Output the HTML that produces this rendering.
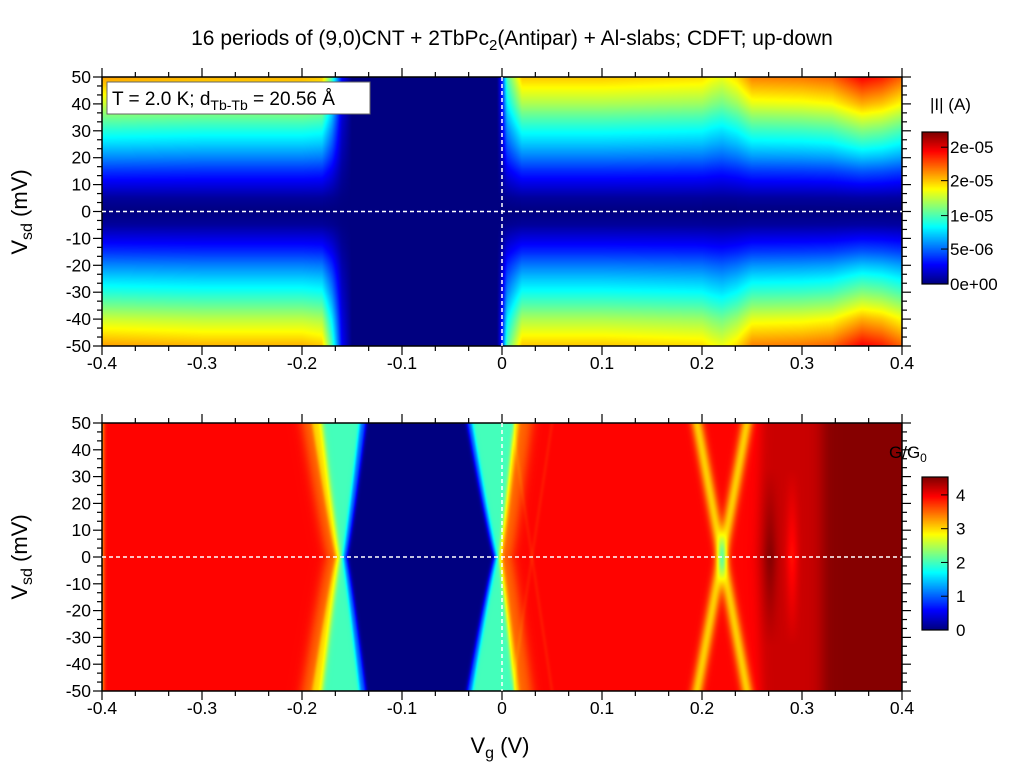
<!DOCTYPE html>
<html><head><meta charset="utf-8"><style>
body{margin:0;background:#fff;width:1024px;height:768px;overflow:hidden;font-family:"Liberation Sans",sans-serif}
canvas{position:absolute}
svg{position:absolute;left:0;top:0}
</style></head><body>
<canvas id="c1" width="800" height="269" style="left:102px;top:77px"></canvas>
<canvas id="c2" width="800" height="268" style="left:102px;top:423px"></canvas>
<canvas id="cb1" width="26" height="152" style="left:922px;top:132px"></canvas>
<canvas id="cb2" width="26" height="153" style="left:922px;top:477px"></canvas>
<svg id="ov" width="1024" height="768" font-family="Liberation Sans, sans-serif">
<text x="512" y="45" font-size="21" text-anchor="middle">16 periods of (9,0)CNT + 2TbPc<tspan font-size="15" dy="5">2</tspan><tspan dy="-5">(Antipar) + Al-slabs; CDFT; up-down</tspan></text>
<text transform="translate(27,212) rotate(-90)" font-size="22" text-anchor="middle">V<tspan font-size="16" dy="5">sd</tspan><tspan dy="-5"> (mV)</tspan></text>
<text transform="translate(27,557) rotate(-90)" font-size="22" text-anchor="middle">V<tspan font-size="16" dy="5">sd</tspan><tspan dy="-5"> (mV)</tspan></text>
<text x="500" y="753" font-size="22" text-anchor="middle">V<tspan font-size="16" dy="5">g</tspan><tspan dy="-5">  (V)</tspan></text>
<g>
<rect x="107" y="82" width="263" height="32" fill="#fff" stroke="#666" stroke-width="1"/>
<text x="112" y="105" font-size="19">T = 2.0 K; d<tspan font-size="14" dy="5">Tb-Tb</tspan><tspan dy="-5"> = 20.56 Å</tspan></text>
</g>
<text x="930" y="110" font-size="17">|I| (A)</text>
<text x="889" y="458" font-size="17">G/G<tspan font-size="12" dy="4">0</tspan></text>
<g id="axes"></g>
</svg>
<script>
// ---- data: top panel |I| (normalized to colorbar) ----
const topVg  = [-0.4,-0.3,-0.2,-0.18,-0.17,-0.16,-0.15,-0.02,-0.005,0,0.005,0.02,0.1,0.2,0.21,0.22,0.235,0.25,0.3,0.33,0.36,0.38,0.4];
const topAmp = [0.72,0.7,0.7,0.68,0.45,0.12,0,0,0,0.15,0.45,0.68,0.68,0.66,0.63,0.61,0.66,0.75,0.76,0.78,0.88,0.85,0.78];
const profV  = [0,5,10,15,20,25,30,35,40,45,50];
const prof   = [0,0.04,0.14,0.24,0.36,0.47,0.57,0.68,0.8,0.9,1];
// ---- data: bottom panel G/G0 boundaries [vg at Vsd=0, vg at |Vsd|=50, value after, width] ----
const gStart = 3.3;
const gEdgeMid = [-0.398,-0.175,-0.166,-0.162,-0.159,-0.155,-0.008,-0.005,-0.003,0.0,0.01,0.255,0.32];
const gEdgeTop = [-0.398,-0.200,-0.190,-0.180,-0.142,-0.136,-0.035,-0.030,0.012,0.017,0.03,0.26,0.32];
const gEdgeVal = [3.95,3.5,3.0,2.0,1.0,0.0,1.0,2.0,3.0,3.5,3.95,4.2,4.5];
const gEdgeW   = [0.002,0.006,0.002,0.003,0.002,0.002,0.002,0.002,0.002,0.002,0.006,0.006,0.008];
// line features [vg mid, vg top, amplitude, width]
const lineMid = [0.22,0.22,0.03,0.03,0.268,0.29];
const lineTop = [0.195,0.245,0.01,0.05,0.268,0.29];
const lineAmp = [-0.9,-0.9,-0.08,-0.08,0.3,-0.3];
const lineW   = [0.006,0.006,0.002,0.002,0.007,0.006];
const cb1Labels=["2e-05","2e-05","1e-05","5e-06","0e+00"], cb1Pos=[0.9,0.68,0.45,0.23,0];
const cb2Labels=["0","1","2","3","4"], cb2Vals=[0,1,2,3,4], gMax=4.53;
const xTicks=[-0.4,-0.3,-0.2,-0.1,0,0.1,0.2,0.3,0.4], yTicks=[-50,-40,-30,-20,-10,0,10,20,30,40,50];

function interp(xs,ys,x){if(x<=xs[0])return ys[0];for(let i=1;i<xs.length;i++){if(x<=xs[i]){const t=(x-xs[i-1])/(xs[i]-xs[i-1]);return ys[i-1]+t*(ys[i]-ys[i-1]);}}return ys[ys.length-1];}
function cl(v){return Math.max(0,Math.min(1,v));}
function jet(x){x=cl(x);return [cl(1.5-Math.abs(4*x-3)),cl(1.5-Math.abs(4*x-2)),cl(1.5-Math.abs(4*x-1))].map(v=>Math.round(v*255));}
function xs(vg,P){return P.x+(vg+0.4)/0.8*P.w;}
function ys(v,P){return P.y+(50-v)/100*P.h;}
const P1={x:102,y:77,w:800,h:269},P2={x:102,y:423,w:800,h:268};

function paint(id,P,fn){const c=document.getElementById(id),ctx=c.getContext('2d'),im=ctx.createImageData(P.w,P.h);
for(let j=0;j<P.h;j++){const V=50-(j+0.5)/P.h*100;for(let i=0;i<P.w;i++){const vg=-0.4+(i+0.5)/P.w*0.8;const col=jet(fn(vg,V));const k=(j*P.w+i)*4;im.data[k]=col[0];im.data[k+1]=col[1];im.data[k+2]=col[2];im.data[k+3]=255;}}
ctx.putImageData(im,0,0);}
paint('c1',P1,(vg,V)=>interp(topVg,topAmp,vg)*interp(profV,prof,Math.abs(V)));
paint('c2',P2,(vg,V)=>{const t=Math.abs(V)/50;let g=gStart,prev=gStart;
for(let i=0;i<gEdgeMid.length;i++){const b=gEdgeMid[i]+(gEdgeTop[i]-gEdgeMid[i])*Math.pow(t,0.9);g+=(gEdgeVal[i]-prev)/(1+Math.exp(-(vg-b)/gEdgeW[i]*2));prev=gEdgeVal[i];}
for(let i=0;i<lineMid.length;i++){const c=lineMid[i]+(lineTop[i]-lineMid[i])*t;let a=lineAmp[i];if(lineMid[i]===lineTop[i])a*=Math.max(0,1-t*1.5);g+=a*Math.exp(-Math.pow((vg-c)/lineW[i],2));}
return g/gMax;});
function bar(id,h){const c=document.getElementById(id),ctx=c.getContext('2d');for(let j=0;j<h;j++){const col=jet(1-j/(h-1));ctx.fillStyle=`rgb(${col})`;ctx.fillRect(0,j,26,1);}}
bar('cb1',152);bar('cb2',153);

const NS='http://www.w3.org/2000/svg',ax=document.getElementById('axes');
function el(tag,at,txt){const e=document.createElementNS(NS,tag);for(const k in at)e.setAttribute(k,at[k]);if(txt!==undefined)e.textContent=txt;ax.appendChild(e);return e;}
[P1,P2].forEach((P,pi)=>{
 const f=el('rect',{x:P.x,y:P.y,width:P.w,height:P.h,fill:'none',stroke:'#000','stroke-width':1.5});
 
 
 for(let k=0;k<=24;k++){const vg=-0.4+k*0.8/24,x=xs(vg,P),L=k%3===0?9:5;
  el('line',{x1:x,y1:P.y,x2:x,y2:P.y-L,stroke:'#000','stroke-width':1.2});
  el('line',{x1:x,y1:P.y+P.h,x2:x,y2:P.y+P.h+L,stroke:'#000','stroke-width':1.2});}
 xTicks.forEach(v=>{const t=el('text',{x:xs(v,P),y:P.y+P.h+23,'font-size':17.5,'text-anchor':'middle'},v===0?'0':v.toFixed(1));
  
  });
 for(let k=0;k<=30;k++){const V=-50+k*100/30,y=ys(V,P),L=k%3===0?9:5;
  el('line',{x1:P.x,y1:y,x2:P.x-L,y2:y,stroke:'#000','stroke-width':1.2});
  el('line',{x1:P.x+P.w,y1:y,x2:P.x+P.w+L,y2:y,stroke:'#000','stroke-width':1.2});}
 yTicks.forEach(v=>{const t=el('text',{x:P.x-11,y:ys(v,P)+6,'font-size':17.5,'text-anchor':'end'},String(v));
  
  });
 const h=el('line',{x1:P.x,y1:ys(0,P),x2:P.x+P.w,y2:ys(0,P),stroke:'#fff','stroke-width':1.5,'stroke-dasharray':'4,3'});
 
 
 const v=el('line',{x1:xs(0,P),y1:P.y,x2:xs(0,P),y2:P.y+P.h,stroke:'#fff','stroke-width':1.5,'stroke-dasharray':'4,3'});
 
 
});
el('rect',{x:922,y:132,width:26,height:152,fill:'none',stroke:'#000','stroke-width':1.2});
cb1Labels.forEach((s,i)=>{const y=284-cb1Pos[i]*152;el('line',{x1:941,y1:y,x2:948,y2:y,stroke:'#000'});
 const t=el('text',{x:950,y:y+6,'font-size':17},s);
 
 });
el('rect',{x:922,y:477,width:26,height:153,fill:'none',stroke:'#000','stroke-width':1.2});
cb2Labels.forEach((s,i)=>{const y=630-cb2Vals[i]/gMax*153;el('line',{x1:941,y1:y,x2:948,y2:y,stroke:'#000'});
 const t=el('text',{x:956,y:y+6,'font-size':17},s);
 
 });
</script>
</body></html>
